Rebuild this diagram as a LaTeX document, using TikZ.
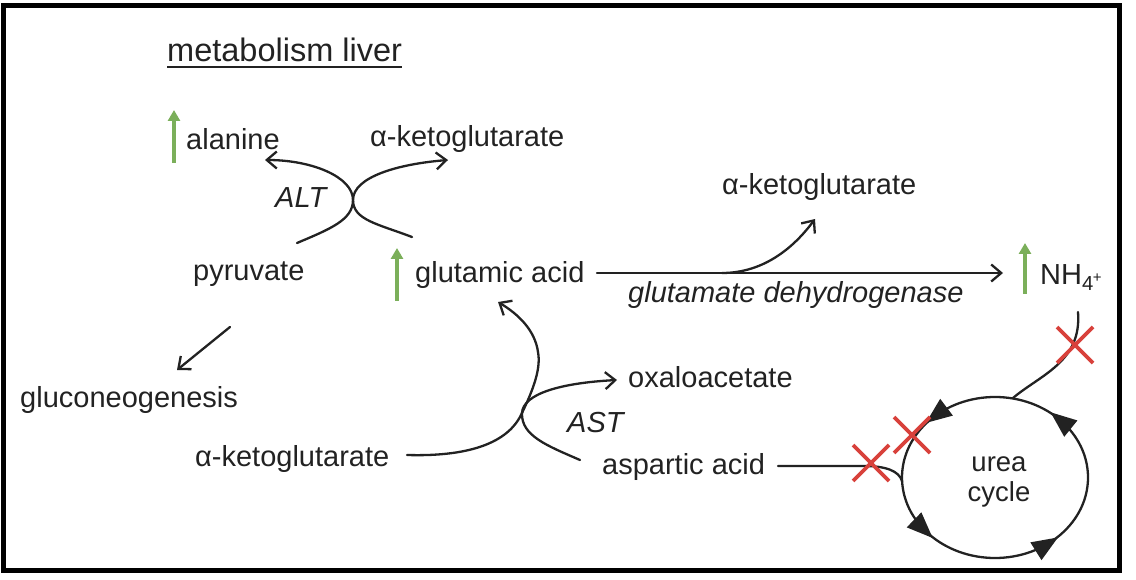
\documentclass[tikz,border=0pt]{standalone}
\usepackage{fontspec}
\setmainfont{Liberation Sans}
\usetikzlibrary{arrows.meta,decorations.markings}
\definecolor{txt}{HTML}{222222}
\definecolor{upgreen}{HTML}{7BAF5A}
\definecolor{xred}{HTML}{D8413B}
\tikzset{
  lbl/.style={font=\fontsize{29}{32}\selectfont, text=txt, inner sep=0pt, anchor=base west},
  enz/.style={lbl, font=\fontsize{29}{32}\selectfont\itshape},
  conn/.style={line width=2.3pt, draw=txt, line cap=round},
  tipped/.style={conn, -{Straight Barb[length=10pt,width=17pt,line width=2.3pt]}},
  upmark/.style={line width=4pt, draw=upgreen, -{Triangle[length=11pt,width=12pt]}},
  xmark/.style={line width=3.8pt, draw=xred},
  cyctri/.style={fill=txt},
  cyc/.style={conn, postaction={decorate}, decoration={markings,
    mark=at position 0.125 with {\fill[cyctri] (10pt,0pt) -- (-16pt,10.5pt) -- (-16pt,-10.5pt) -- cycle;},
    mark=at position 0.37 with {\fill[cyctri] (10pt,0pt) -- (-16pt,10.5pt) -- (-16pt,-10.5pt) -- cycle;},
    mark=at position 0.61 with {\fill[cyctri] (10pt,0pt) -- (-16pt,10.5pt) -- (-16pt,-10.5pt) -- cycle;},
    mark=at position 0.855 with {\fill[cyctri] (10pt,0pt) -- (-16pt,10.5pt) -- (-16pt,-10.5pt) -- cycle;}}},
}
\begin{document}
\begin{tikzpicture}[x=1pt,y=-1pt]
\useasboundingbox (0,0) rectangle (1136,580);
\draw[line width=5pt] (3.5,5.5) rectangle (1119.5,570);

% labels
\node[lbl, font=\fontsize{32.5}{35}\selectfont] (title) at (167,62) {metabolism liver};
\draw[conn, line cap=butt, line width=2.6pt] ([yshift=-5pt]title.base west) -- ([yshift=-5pt]title.base east);
\node[lbl] (ala) at (186,150) {alanine};
\node[lbl] (akg1) at (370,147) {α-ketoglutarate};
\node[enz] (alt) at (275,208) {ALT};
\node[lbl] (pyr) at (193,280) {pyruvate};
\node[lbl] (glu) at (415,283) {glutamic acid};
\node[lbl] (akg2) at (722,195) {α-ketoglutarate};
\node[enz] (gdh) at (628,303) {glutamate dehydrogenase};
\node[lbl] (nh4) at (1040,285) {NH\textsubscript{4}\kern-1pt\raisebox{2pt}{\fontsize{15}{15}\selectfont +}};
\node[lbl] (gng) at (20,407) {gluconeogenesis};
\node[lbl] (akg3) at (195,466) {α-ketoglutarate};
\node[lbl] (oxa) at (628,387) {oxaloacetate};
\node[enz] (ast) at (567,432) {AST};
\node[lbl] (asp) at (602,474) {aspartic acid};
\node[font=\fontsize{27.5}{30}\selectfont, text=txt, align=center, inner sep=0pt] (urea) at (999,482) {urea\\cycle};

% green "up" markers
\coordinate (g1a) at (174,163); \coordinate (g1b) at (174,110);
\coordinate (g2a) at (397,301); \coordinate (g2b) at (397,248);
\coordinate (g3a) at (1025,294); \coordinate (g3b) at (1025,243);
\draw[upmark] (g1a) -- (g1b);
\draw[upmark] (g2a) -- (g2b);
\draw[upmark] (g3a) -- (g3b);

% ALT crossing
\coordinate (altx) at (353,200);
\coordinate (altp) at (297,243);
\coordinate (altg) at (412,237);
\coordinate (alta) at (265,160);
\coordinate (altk) at (448,160);
\draw[tipped] (altp) .. controls (330,229) and (353,220) .. (altx) .. controls (353,177) and (312,160) .. (alta);
\draw[tipped] (altg) .. controls (378,224) and (353,220) .. (altx) .. controls (353,177) and (398,164) .. (altk);

% glutamate dehydrogenase
\coordinate (gs) at (597,273);
\coordinate (ge) at (1003,273);
\coordinate (gb) at (722,273);
\coordinate (gk) at (815,219);
\draw[tipped] (gs) -- (ge);
\draw[tipped] (gb) .. controls (765,273) and (795,246) .. (gk);

% pyruvate -> gluconeogenesis
\coordinate (ps) at (230,327);
\coordinate (pe) at (177,370);
\draw[tipped] (ps) -- (pe);

% AST crossing
\coordinate (astx) at (522,413);
\coordinate (asta) at (407,455);
\coordinate (astg) at (498,302);
\coordinate (asts) at (580,460);
\coordinate (asto) at (617,380);
\draw[tipped] (asta) .. controls (475,457) and (510,440) .. (astx) .. controls (534,388) and (541,368) .. (538,352) .. controls (535,330) and (518,314) .. (astg);
\draw[tipped] (asts) .. controls (548,446) and (521,436) .. (astx) .. controls (523,394) and (560,383) .. (asto);

% urea cycle
\coordinate (uc) at (995,477.5);
\draw[cyc] (1088,477.5) arc[start angle=360, end angle=0, x radius=93, y radius=80.5];
\coordinate (aspl) at (778,466);
\coordinate (ucl) at (902,481);
\draw[conn] (aspl) -- (864,466) .. controls (886,466) and (899,471) .. (ucl);
\coordinate (nhs) at (1078,312);
\coordinate (uct) at (1013,398);
\draw[conn] (nhs) .. controls (1082,362) and (1040,375) .. (uct);

% red crosses
\foreach \cx/\cy in {871/463, 912/435, 1075/345}{
  \draw[xmark] (\cx-18,\cy-18) -- (\cx+18,\cy+18);
  \draw[xmark] (\cx-18,\cy+18) -- (\cx+18,\cy-18);
}
\end{tikzpicture}
\end{document}
